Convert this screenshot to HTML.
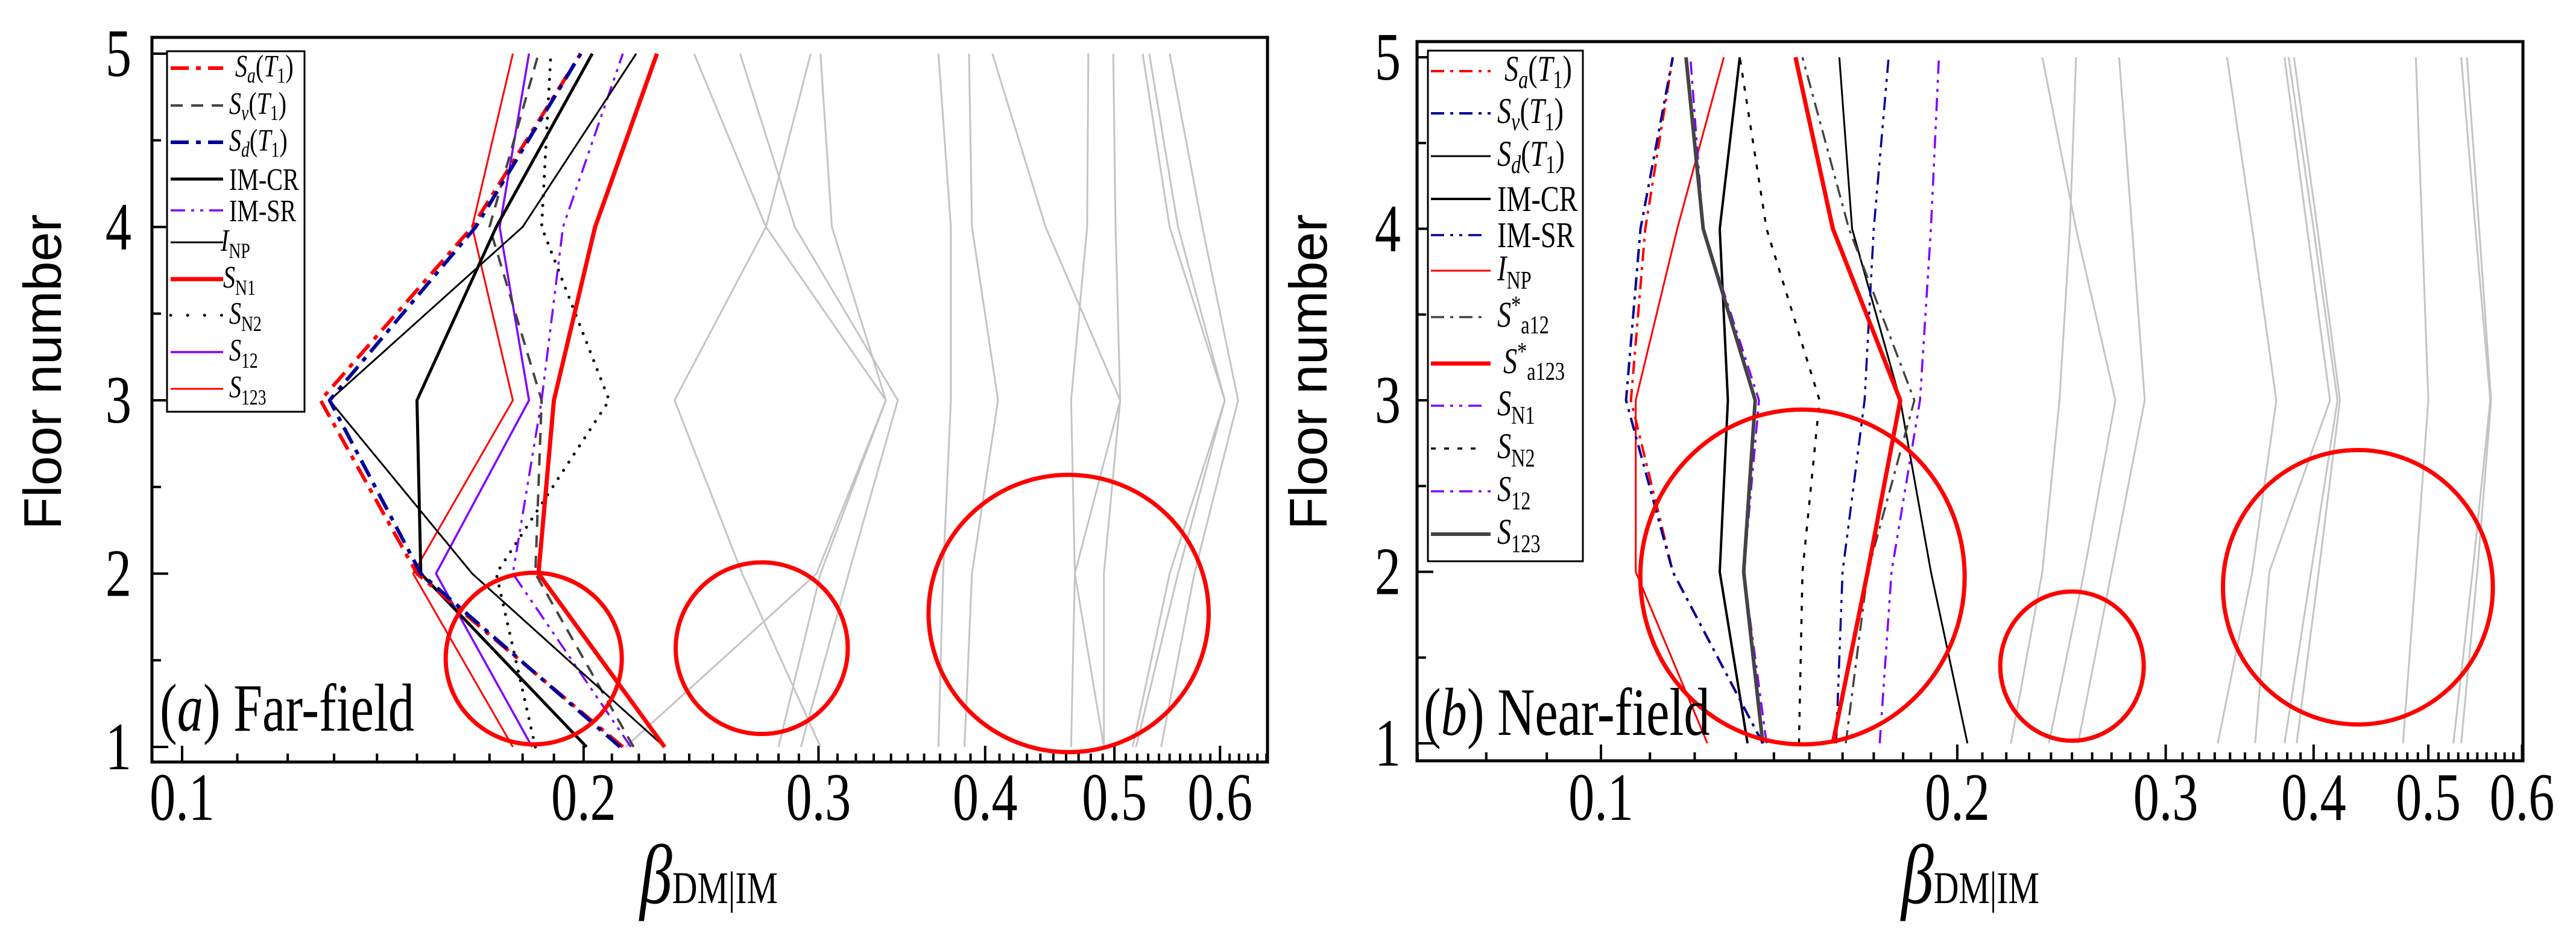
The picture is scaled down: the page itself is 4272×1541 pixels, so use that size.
<!DOCTYPE html>
<html><head><meta charset="utf-8"><style>
html,body{margin:0;padding:0;background:#fff;}
svg, svg text{font-family:"Liberation Serif","Times New Roman","DejaVu Serif",serif;}
svg text.sans{font-family:"Liberation Sans",Arial,sans-serif;}
</style></head><body>
<svg id="chart" xmlns="http://www.w3.org/2000/svg" width="4272" height="1536" viewBox="0 0 4272 1536">
<rect x="0" y="0" width="4272" height="1536" fill="#fff"/>
<g id="pa"></g>
<g id="pb"></g>
</svg>
<script>
const floors = [1, 2, 3, 4, 5];
const xTicksA = [0.1, 0.2, 0.3, 0.4, 0.5, 0.6];
const xTicksB = [0.1, 0.2, 0.3, 0.4, 0.5, 0.6];
const xTickLabels = ["0.1", "0.2", "0.3", "0.4", "0.5", "0.6"];
const yTickLabels = ["1", "2", "3", "4", "5"];

// Far-field series (floor 1..5)
const aSa = [0.214, 0.150, 0.127, 0.165, 0.199];
const aSv = [0.218, 0.184, 0.186, 0.170, 0.185];
const aSd = [0.213, 0.151, 0.129, 0.166, 0.199];
const aIMCR = [0.201, 0.151, 0.150, 0.172, 0.203];
const aIMSR = [0.217, 0.177, 0.186, 0.193, 0.214];
const aINP = [0.230, 0.165, 0.129, 0.180, 0.219];
const aSN1 = [0.230, 0.185, 0.190, 0.204, 0.227];
const aSN2 = [0.184, 0.172, 0.209, 0.186, 0.189];
const aS12 = [0.183, 0.155, 0.182, 0.173, 0.182];
const aS123 = [0.177, 0.149, 0.177, 0.165, 0.177];
const aGray = [
 [0.215, 0.299, 0.337, 0.274, 0.242],
 [0.301, 0.263, 0.234, 0.274, 0.296],
 [0.291, 0.316, 0.344, 0.288, 0.262],
 [0.280, 0.301, 0.337, 0.307, 0.301],
 [0.369, 0.372, 0.377, 0.377, 0.369],
 [0.386, 0.391, 0.409, 0.391, 0.389],
 [0.491, 0.467, 0.505, 0.444, 0.405],
 [0.464, 0.467, 0.464, 0.477, 0.478],
 [0.491, 0.491, 0.505, 0.501, 0.499],
 [0.516, 0.550, 0.605, 0.550, 0.525],
 [0.519, 0.558, 0.605, 0.558, 0.531],
 [0.542, 0.574, 0.619, 0.582, 0.550]
];
// Near-field series
const bSa = [0.137, 0.115, 0.106, 0.109, 0.115];
const bSv = [0.137, 0.115, 0.105, 0.108, 0.115];
const bSd = [0.204, 0.190, 0.179, 0.163, 0.159];
const bIMCR = [0.133, 0.126, 0.128, 0.126, 0.131];
const bIMSR = [0.158, 0.160, 0.167, 0.170, 0.175];
const bINP = [0.123, 0.107, 0.107, 0.116, 0.127];
const bSa12 = [0.161, 0.168, 0.184, 0.162, 0.148];
const bSa123 = [0.157, 0.168, 0.179, 0.157, 0.146];
const bSN1 = [0.172, 0.176, 0.186, 0.190, 0.193];
const bSN2 = [0.147, 0.148, 0.153, 0.138, 0.131];
const bS12 = [0.138, 0.132, 0.136, 0.122, 0.119];
const bS123 = [0.137, 0.132, 0.135, 0.122, 0.118];
const bGray = [
 [0.239, 0.256, 0.272, 0.252, 0.236],
 [0.222, 0.236, 0.244, 0.249, 0.252],
 [0.253, 0.270, 0.288, 0.281, 0.274],
 [0.332, 0.355, 0.372, 0.355, 0.338],
 [0.357, 0.367, 0.413, 0.395, 0.378],
 [0.378, 0.398, 0.419, 0.400, 0.381],
 [0.387, 0.404, 0.421, 0.403, 0.385],
 [0.476, 0.488, 0.500, 0.494, 0.488],
 [0.525, 0.545, 0.564, 0.548, 0.533],
 [0.533, 0.550, 0.565, 0.552, 0.539]
];
// highlight ellipses: [centre value, centre floor, half-width (log units), half-height (floors)]
const aEllipses = [[0.1835, 1.51, 0.066, 0.495], [0.272, 1.57, 0.0645, 0.495], [0.462, 1.77, 0.105, 0.80]];
const bEllipses = [[0.148, 1.97, 0.137, 0.976], [0.25, 1.45, 0.0606, 0.435], [0.436, 1.91, 0.114, 0.80]];

const NS = "http://www.w3.org/2000/svg";
function mk(tag, attrs, parent){const e=document.createElementNS(NS,tag);for(const k in attrs)e.setAttribute(k,attrs[k]);parent.appendChild(e);return e;}
function squish(el,x){el.setAttribute('transform','matrix(0.77 0 0 1 '+(0.23*x).toFixed(2)+' 0)');}

const A = {g:document.getElementById('pa'), x0:302, dec:2212, yf1:1239, fs:287.5, L:252, R:2102, T:62, B:1264, vmin:0.095, vmax:0.655, tickLabR:218, ylabX:71};
const B = {g:document.getElementById('pb'), x0:2655, dec:1963, yf1:1233, fs:284.5, L:2350, R:4184, T:69, B:1262, vmin:0.07, vmax:0.6, tickLabR:2323, ylabX:2170};
function X(P,v){return P.x0+P.dec*Math.log10(v/0.1);}
function Y(P,f){return P.yf1-(f-1)*P.fs;}

function series(P, vals, color, w, dash, name, cap){
  const pts = vals.map((v,i)=>X(P,v).toFixed(1)+','+Y(P,floors[i]).toFixed(1)).join(' ');
  const el = mk('polyline',{points:pts,fill:'none',stroke:color,'stroke-width':w,'stroke-linejoin':'round','stroke-linecap':cap||'butt'},P.g);
  if(dash) el.setAttribute('stroke-dasharray',dash);
  
  
}
function ellipses(P, list, prefix){
  list.forEach((e,i)=>{
    const cx=X(P,e[0]), cy=Y(P,e[1]);
    const rx=P.dec*e[2], ry=P.fs*e[3];
    const el=mk('ellipse',{cx:cx,cy:cy,rx:rx,ry:ry,fill:'none',stroke:'#ff0000','stroke-width':7},P.g);
    
    
  });
}
function axes(P, ticks, prefix){
  const fr=mk('rect',{x:P.L,y:P.T,width:P.R-P.L,height:P.B-P.T,fill:'none',stroke:'#000','stroke-width':5},P.g);
  
  
  for(let v=0.07; v<=0.66; v+=0.01){
    const vv=Math.round(v*100)/100;
    if(vv<P.vmin||vv>P.vmax) continue;
    const x=X(P,vv);
    const major=ticks.some(t=>Math.abs(t-vv)<1e-6);
    mk('line',{x1:x,y1:P.B,x2:x,y2:P.B-(major?27:14),stroke:'#000','stroke-width':4},P.g);
  }
  ticks.forEach((t,i)=>{
    const x=X(P,t);
    const tx=mk('text',{x:x,y:1360,'font-size':112,'text-anchor':'middle'},P.g);
    tx.textContent=xTickLabels[i];
    squish(tx,x);
    
    
  });
  for(let f=1; f<=5; f+=0.5){
    const y=Y(P,f); const major=Number.isInteger(f);
    mk('line',{x1:P.L,y1:y,x2:P.L+(major?27:15),y2:y,stroke:'#000','stroke-width':4},P.g);
  }
  floors.forEach((f,i)=>{
    const tx=mk('text',{x:P.tickLabR,y:Y(P,f)+37,'font-size':112,'text-anchor':'end'},P.g);
    tx.textContent=yTickLabels[i];
    squish(tx,P.tickLabR);
    
    
  });
  const yl=mk('text',{x:P.ylabX+30,y:617,'font-size':88,'text-anchor':'middle','class':'sans',transform:'rotate(-90 '+(P.ylabX+30)+' 617)'},P.g);
  yl.textContent='Floor number';
  
  
}

axes(A, xTicksA, 'far');
aGray.forEach((g,i)=>series(A,g,'#c4c4c4',3,null,'far-record-line-'+(i+1)));
series(A,aS123,'#ff0000',3,null,'far-S123');
series(A,aS12,'#7f00ff',3.5,null,'far-S12');
series(A,aSN2,'#000',5,'0.1 16','far-SN2','round');
series(A,aSv,'#444',4,'20 14','far-Sv');
series(A,aIMSR,'#7f00ff',3.5,'24 10 5 10 5 10','far-IM-SR');
series(A,aIMCR,'#000',5,null,'far-IM-CR');
series(A,aINP,'#000',3,null,'far-INP');
series(A,aSN1,'#ff0000',7,null,'far-SN1');
series(A,aSa,'#ff0000',6,'30 12 8 12','far-Sa');
series(A,aSd,'#000099',6,'30 12 8 12','far-Sd');
ellipses(A,aEllipses,'far');

axes(B, xTicksB, 'near');
bGray.forEach((g,i)=>series(B,g,'#c4c4c4',3,null,'near-record-line-'+(i+1)));
series(B,bINP,'#ff0000',3,null,'near-INP');
series(B,bSd,'#000',3,null,'near-Sd');
series(B,bIMCR,'#000',4,null,'near-IM-CR');
series(B,bSN2,'#000',3.5,'8 14','near-SN2');
series(B,bIMSR,'#000099',3.5,'22 10 5 10 5 10','near-IM-SR');
series(B,bSa12,'#444',3.5,'22 10 5 10','near-Sa12-star');
series(B,bSN1,'#7f00ff',3.5,'22 10 5 10 5 10','near-SN1');
series(B,bS12,'#7f00ff',3.5,'22 10 5 10','near-S12');
series(B,bS123,'#444',6,null,'near-S123');
series(B,bSa123,'#ff0000',7,null,'near-Sa123-star');
series(B,bSa,'#ff0000',4,'22 10 5 10','near-Sa');
series(B,bSv,'#000099',4,'22 10 5 10','near-Sv');
ellipses(B,bEllipses,'near');
</script>
<svg style="position:absolute;left:0;top:0" width="4272" height="1536" viewBox="0 0 4272 1536">
<g>
<g>
<rect x="277" y="85" width="228" height="598" fill="#fff" stroke="#000" stroke-width="3"/>
<g font-size="52">
<line x1="283" y1="113" x2="370" y2="113" stroke="#f00" stroke-width="6" stroke-dasharray="30 12 8 12"/>
<text x="390" y="127" transform="matrix(0.77 0 0 1 89.7 0)"><tspan font-style="italic">S</tspan><tspan font-style="italic" font-size="36" dy="10">a</tspan><tspan dy="-10">(</tspan><tspan font-style="italic">T</tspan><tspan font-size="36" dy="10">1</tspan><tspan dy="-10">)</tspan></text>
<line x1="283" y1="175" x2="370" y2="175" stroke="#444" stroke-width="4" stroke-dasharray="20 14"/>
<text x="380" y="189" transform="matrix(0.77 0 0 1 87.4 0)"><tspan font-style="italic">S</tspan><tspan font-style="italic" font-size="36" dy="10">v</tspan><tspan dy="-10">(</tspan><tspan font-style="italic">T</tspan><tspan font-size="36" dy="10">1</tspan><tspan dy="-10">)</tspan></text>
<line x1="283" y1="236" x2="370" y2="236" stroke="#009" stroke-width="6" stroke-dasharray="30 12 8 12"/>
<text x="380" y="250" transform="matrix(0.77 0 0 1 87.4 0)"><tspan font-style="italic">S</tspan><tspan font-style="italic" font-size="36" dy="10">d</tspan><tspan dy="-10">(</tspan><tspan font-style="italic">T</tspan><tspan font-size="36" dy="10">1</tspan><tspan dy="-10">)</tspan></text>
<line x1="283" y1="297" x2="370" y2="297" stroke="#000" stroke-width="5"/>
<text x="380" y="315" transform="matrix(0.77 0 0 1 87.4 0)">IM-CR</text>
<line x1="283" y1="349" x2="370" y2="349" stroke="#7f00ff" stroke-width="3.5" stroke-dasharray="24 10 5 10 5 10"/>
<text x="380" y="367" transform="matrix(0.77 0 0 1 87.4 0)">IM-SR</text>
<line x1="283" y1="402" x2="370" y2="402" stroke="#000" stroke-width="3"/>
<text x="366" y="416" transform="matrix(0.77 0 0 1 84.18 0)"><tspan font-style="italic">I</tspan><tspan font-size="36" dy="12">NP</tspan></text>
<line x1="283" y1="463" x2="370" y2="463" stroke="#f00" stroke-width="7"/>
<text x="370" y="477" transform="matrix(0.77 0 0 1 85.1 0)"><tspan font-style="italic">S</tspan><tspan font-size="36" dy="12">N1</tspan></text>
<line x1="283" y1="523" x2="370" y2="523" stroke="#000" stroke-width="5" stroke-linecap="round" stroke-dasharray="0.1 28"/>
<text x="380" y="537" transform="matrix(0.77 0 0 1 87.4 0)"><tspan font-style="italic">S</tspan><tspan font-size="36" dy="12">N2</tspan></text>
<line x1="283" y1="584" x2="370" y2="584" stroke="#7f00ff" stroke-width="3.5"/>
<text x="380" y="598" transform="matrix(0.77 0 0 1 87.4 0)"><tspan font-style="italic">S</tspan><tspan font-size="36" dy="12">12</tspan></text>
<line x1="283" y1="645" x2="370" y2="645" stroke="#f00" stroke-width="3"/>
<text x="380" y="659" transform="matrix(0.77 0 0 1 87.4 0)"><tspan font-style="italic">S</tspan><tspan font-size="36" dy="12">123</tspan></text>
</g></g>
<g>
<rect x="2368" y="84" width="257" height="847" fill="#fff" stroke="#000" stroke-width="3"/>
<g font-size="60">
<line x1="2373" y1="118" x2="2472" y2="118" stroke="#f00" stroke-width="4" stroke-dasharray="22 10 5 10"/>
<text x="2495" y="134" transform="matrix(0.77 0 0 1 573.85 0)"><tspan font-style="italic">S</tspan><tspan font-style="italic" font-size="42" dy="12">a</tspan><tspan dy="-12">(</tspan><tspan font-style="italic">T</tspan><tspan font-size="42" dy="12">1</tspan><tspan dy="-12">)</tspan></text>
<line x1="2373" y1="188" x2="2472" y2="188" stroke="#009" stroke-width="4" stroke-dasharray="22 10 5 10"/>
<text x="2483" y="204" transform="matrix(0.77 0 0 1 571.09 0)"><tspan font-style="italic">S</tspan><tspan font-style="italic" font-size="42" dy="12">v</tspan><tspan dy="-12">(</tspan><tspan font-style="italic">T</tspan><tspan font-size="42" dy="12">1</tspan><tspan dy="-12">)</tspan></text>
<line x1="2373" y1="259" x2="2472" y2="259" stroke="#000" stroke-width="3"/>
<text x="2483" y="275" transform="matrix(0.77 0 0 1 571.09 0)"><tspan font-style="italic">S</tspan><tspan font-style="italic" font-size="42" dy="12">d</tspan><tspan dy="-12">(</tspan><tspan font-style="italic">T</tspan><tspan font-size="42" dy="12">1</tspan><tspan dy="-12">)</tspan></text>
<line x1="2373" y1="330" x2="2472" y2="330" stroke="#000" stroke-width="4"/>
<text x="2483" y="350" transform="matrix(0.77 0 0 1 571.09 0)">IM-CR</text>
<line x1="2373" y1="390" x2="2465" y2="390" stroke="#009" stroke-width="3.5" stroke-dasharray="22 10 5 10 5 10"/>
<text x="2483" y="410" transform="matrix(0.77 0 0 1 571.09 0)">IM-SR</text>
<line x1="2373" y1="449" x2="2472" y2="449" stroke="#f00" stroke-width="3"/>
<text x="2483" y="465" transform="matrix(0.77 0 0 1 571.09 0)"><tspan font-style="italic">I</tspan><tspan font-size="42" dy="14">NP</tspan></text>
<line x1="2373" y1="526" x2="2465" y2="526" stroke="#444" stroke-width="3.5" stroke-dasharray="22 10 5 10"/>
<text x="2483" y="542" transform="matrix(0.77 0 0 1 571.09 0)"><tspan font-style="italic">S</tspan><tspan font-size="42" dy="-22">*</tspan><tspan font-size="42" dy="33">a12</tspan></text>
<line x1="2373" y1="603" x2="2472" y2="603" stroke="#f00" stroke-width="7"/>
<text x="2493" y="619" transform="matrix(0.77 0 0 1 573.39 0)"><tspan font-style="italic">S</tspan><tspan font-size="42" dy="-22">*</tspan><tspan font-size="42" dy="33">a123</tspan></text>
<line x1="2373" y1="673" x2="2465" y2="673" stroke="#7f00ff" stroke-width="3.5" stroke-dasharray="22 10 5 10 5 10"/>
<text x="2483" y="689" transform="matrix(0.77 0 0 1 571.09 0)"><tspan font-style="italic">S</tspan><tspan font-size="42" dy="14">N1</tspan></text>
<line x1="2373" y1="744" x2="2460" y2="744" stroke="#000" stroke-width="3.5" stroke-dasharray="8 14"/>
<text x="2483" y="760" transform="matrix(0.77 0 0 1 571.09 0)"><tspan font-style="italic">S</tspan><tspan font-size="42" dy="14">N2</tspan></text>
<line x1="2373" y1="815" x2="2472" y2="815" stroke="#7f00ff" stroke-width="3.5" stroke-dasharray="22 10 5 10"/>
<text x="2483" y="831" transform="matrix(0.77 0 0 1 571.09 0)"><tspan font-style="italic">S</tspan><tspan font-size="42" dy="14">12</tspan></text>
<line x1="2373" y1="886" x2="2472" y2="886" stroke="#444" stroke-width="6"/>
<text x="2483" y="902" transform="matrix(0.77 0 0 1 571.09 0)"><tspan font-style="italic">S</tspan><tspan font-size="42" dy="14">123</tspan></text>
</g></g>
<text x="265" y="1212" font-size="112" transform="matrix(0.77 0 0 1 60.95 0)">(<tspan font-style="italic">a</tspan>) Far-field</text>
<text x="2361" y="1219" font-size="112" transform="matrix(0.77 0 0 1 543.03 0)">(<tspan font-style="italic">b</tspan>) Near-field</text>
<text x="1061" y="1498" font-size="140" transform="matrix(0.77 0 0 1 244.03 0)"><tspan font-style="italic">β</tspan><tspan font-size="75">DM|IM</tspan></text>
<text x="3153" y="1498" font-size="140" transform="matrix(0.77 0 0 1 725.19 0)"><tspan font-style="italic">β</tspan><tspan font-size="75">DM|IM</tspan></text>
</g>
</svg>
</body></html>
